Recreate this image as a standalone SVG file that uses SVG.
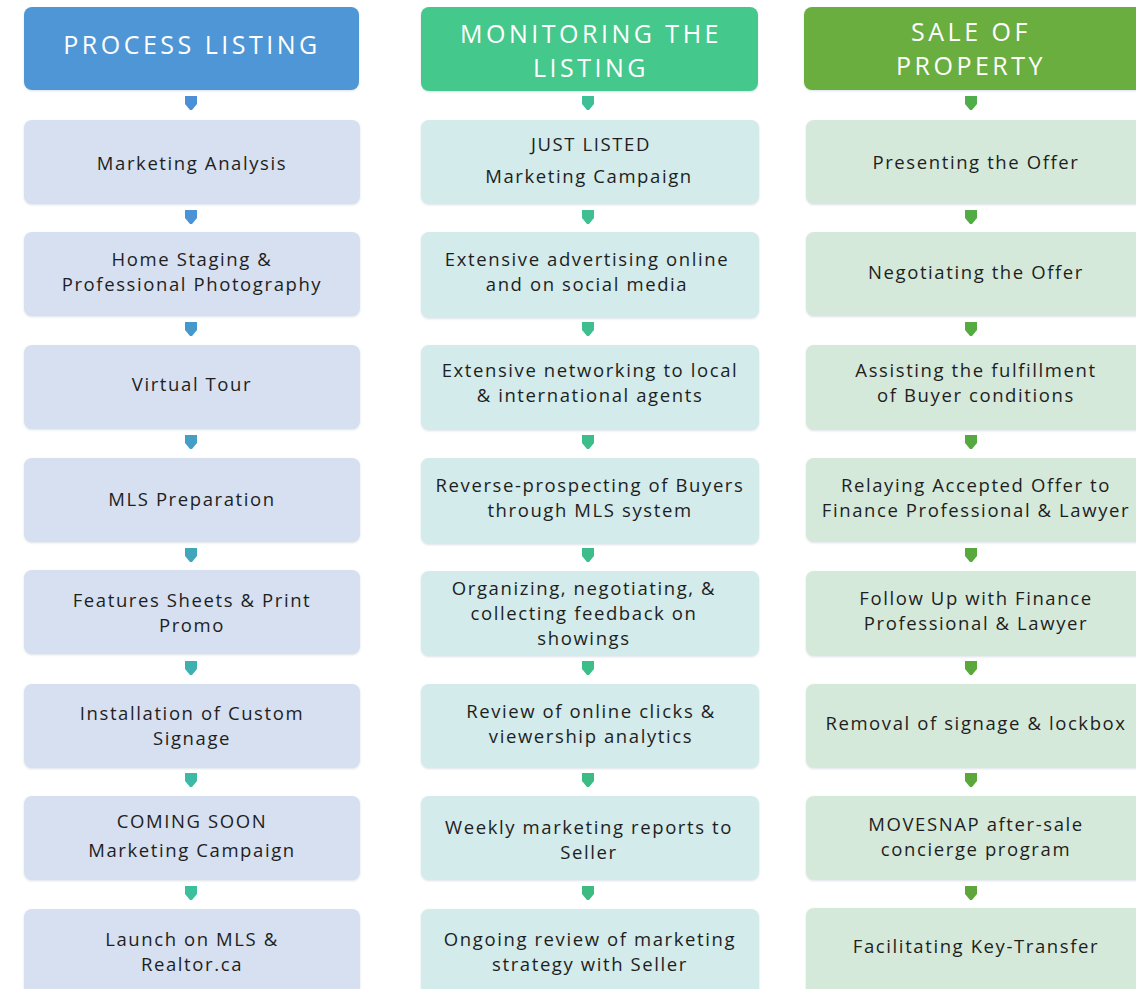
<svg xmlns="http://www.w3.org/2000/svg" width="1136" height="989" viewBox="0 0 1136 989">
  <style>
    .hdr { font-family: "Open Sans", "Liberation Sans", sans-serif; font-size: 25px; letter-spacing: 3.5px; fill: #ffffff; text-anchor: middle; }
    .txt { font-family: "Open Sans", "Liberation Sans", sans-serif; font-size: 18.5px; letter-spacing: 1.6px; fill: #1e1e1e; text-anchor: middle; }
    .box-a { fill: #d6e0f1; }
    .box-b { fill: #d3ebea; }
    .box-c { fill: #d5e9da; }
  </style>
  <defs>
    <filter id="soft" x="-5%" y="-10%" width="110%" height="125%">
      <feDropShadow dx="0" dy="1" stdDeviation="1.2" flood-color="#9aa8b8" flood-opacity="0.35"/>
    </filter>
    <path id="arr" d="M-6,-7 H6 V1 L1,7 H-1 L-6,1 Z"/>
  </defs>
  <rect width="1136" height="989" fill="#ffffff"/>

  <!-- column 1: process listing -->
  <g id="col1">
    <g id="h1"><rect x="24" y="7" width="335" height="83" rx="8" fill="#5096d6" filter="url(#soft)"/>
      <text class="hdr" x="192" y="54">PROCESS LISTING</text></g>
    <g id="a1"><rect class="box-a" x="24" y="120" width="336" height="84" rx="8" filter="url(#soft)"/>
      <text class="txt" x="192" y="170">Marketing Analysis</text></g>
    <g id="a2"><rect class="box-a" x="24" y="232" width="336" height="84" rx="8" filter="url(#soft)"/>
      <text class="txt" x="192" y="266">Home Staging &amp;</text>
      <text class="txt" x="192" y="291">Professional Photography</text></g>
    <g id="a3"><rect class="box-a" x="24" y="345" width="336" height="84" rx="8" filter="url(#soft)"/>
      <text class="txt" x="192" y="391">Virtual Tour</text></g>
    <g id="a4"><rect class="box-a" x="24" y="458" width="336" height="84" rx="8" filter="url(#soft)"/>
      <text class="txt" x="192" y="506">MLS Preparation</text></g>
    <g id="a5"><rect class="box-a" x="24" y="570" width="336" height="84" rx="8" filter="url(#soft)"/>
      <text class="txt" x="192" y="607">Features Sheets &amp; Print</text>
      <text class="txt" x="192" y="632">Promo</text></g>
    <g id="a6"><rect class="box-a" x="24" y="684" width="336" height="84" rx="8" filter="url(#soft)"/>
      <text class="txt" x="192" y="720">Installation of Custom</text>
      <text class="txt" x="192" y="745">Signage</text></g>
    <g id="a7"><rect class="box-a" x="24" y="796" width="336" height="84" rx="8" filter="url(#soft)"/>
      <text class="txt" x="192" y="828">COMING SOON</text>
      <text class="txt" x="192" y="857">Marketing Campaign</text></g>
    <g id="a8"><rect class="box-a" x="24" y="909" width="336" height="90" rx="8" filter="url(#soft)"/>
      <text class="txt" x="192" y="946">Launch on MLS &amp;</text>
      <text class="txt" x="192" y="971">Realtor.ca</text></g>
  </g>

  <!-- column 2: monitoring the listing -->
  <g id="col2">
    <g id="h2"><rect x="421" y="7" width="337" height="84" rx="8" fill="#45c88b" filter="url(#soft)"/>
      <text class="hdr" x="591" y="43">MONITORING THE</text>
      <text class="hdr" x="591" y="77">LISTING</text></g>
    <g id="b1"><rect class="box-b" x="421" y="120" width="338" height="84" rx="8" filter="url(#soft)"/>
      <text class="txt" x="591" y="151">JUST LISTED</text>
      <text class="txt" x="589" y="183">Marketing Campaign</text></g>
    <g id="b2"><rect class="box-b" x="421" y="232" width="338" height="86" rx="8" filter="url(#soft)"/>
      <text class="txt" x="587" y="266">Extensive advertising online</text>
      <text class="txt" x="587" y="291">and on social media</text></g>
    <g id="b3"><rect class="box-b" x="421" y="345" width="338" height="85" rx="8" filter="url(#soft)"/>
      <text class="txt" x="590" y="377">Extensive networking to local</text>
      <text class="txt" x="590" y="402">&amp; international agents</text></g>
    <g id="b4"><rect class="box-b" x="421" y="458" width="338" height="86" rx="8" filter="url(#soft)"/>
      <text class="txt" x="590" y="492">Reverse-prospecting of Buyers</text>
      <text class="txt" x="590" y="517">through MLS system</text></g>
    <g id="b5"><rect class="box-b" x="421" y="571" width="338" height="85" rx="8" filter="url(#soft)"/>
      <text class="txt" x="584" y="595">Organizing, negotiating, &amp;</text>
      <text class="txt" x="584" y="620">collecting feedback on</text>
      <text class="txt" x="584" y="645">showings</text></g>
    <g id="b6"><rect class="box-b" x="421" y="684" width="338" height="84" rx="8" filter="url(#soft)"/>
      <text class="txt" x="591" y="718">Review of online clicks &amp;</text>
      <text class="txt" x="591" y="743">viewership analytics</text></g>
    <g id="b7"><rect class="box-b" x="421" y="796" width="338" height="84" rx="8" filter="url(#soft)"/>
      <text class="txt" x="589" y="834">Weekly marketing reports to</text>
      <text class="txt" x="589" y="859">Seller</text></g>
    <g id="b8"><rect class="box-b" x="421" y="909" width="338" height="90" rx="8" filter="url(#soft)"/>
      <text class="txt" x="590" y="946">Ongoing review of marketing</text>
      <text class="txt" x="590" y="971">strategy with Seller</text></g>
  </g>

  <!-- column 3: sale of property -->
  <g id="col3">
    <g id="h3"><rect x="804" y="7" width="345" height="83" rx="8" fill="#6aae3f" filter="url(#soft)"/>
      <text class="hdr" x="971" y="41">SALE OF</text>
      <text class="hdr" x="971" y="75">PROPERTY</text></g>
    <g id="c1"><rect class="box-c" x="806" y="120" width="345" height="84" rx="8" filter="url(#soft)"/>
      <text class="txt" x="976" y="169">Presenting the Offer</text></g>
    <g id="c2"><rect class="box-c" x="806" y="232" width="345" height="84" rx="8" filter="url(#soft)"/>
      <text class="txt" x="976" y="279">Negotiating the Offer</text></g>
    <g id="c3"><rect class="box-c" x="806" y="345" width="345" height="85" rx="8" filter="url(#soft)"/>
      <text class="txt" x="976" y="377">Assisting the fulfillment</text>
      <text class="txt" x="976" y="402">of Buyer conditions</text></g>
    <g id="c4"><rect class="box-c" x="806" y="458" width="345" height="84" rx="8" filter="url(#soft)"/>
      <text class="txt" x="976" y="492">Relaying Accepted Offer to</text>
      <text class="txt" x="976" y="517">Finance Professional &amp; Lawyer</text></g>
    <g id="c5"><rect class="box-c" x="806" y="571" width="345" height="85" rx="8" filter="url(#soft)"/>
      <text class="txt" x="976" y="605">Follow Up with Finance</text>
      <text class="txt" x="976" y="630">Professional &amp; Lawyer</text></g>
    <g id="c6"><rect class="box-c" x="806" y="684" width="345" height="84" rx="8" filter="url(#soft)"/>
      <text class="txt" x="976" y="730">Removal of signage &amp; lockbox</text></g>
    <g id="c7"><rect class="box-c" x="806" y="796" width="345" height="84" rx="8" filter="url(#soft)"/>
      <text class="txt" x="976" y="831">MOVESNAP after-sale</text>
      <text class="txt" x="976" y="856">concierge program</text></g>
    <g id="c8"><rect class="box-c" x="806" y="908" width="345" height="91" rx="8" filter="url(#soft)"/>
      <text class="txt" x="976" y="953">Facilitating Key-Transfer</text></g>
  </g>

  <!-- connectors: small block arrows between steps -->
  <g id="connectors">
    <use href="#arr" x="191" y="103" fill="#4a8fd8"/>
    <use href="#arr" x="191" y="217" fill="#4a93d4"/>
    <use href="#arr" x="191" y="329" fill="#4698cc"/>
    <use href="#arr" x="191" y="442" fill="#449ec5"/>
    <use href="#arr" x="191" y="555" fill="#41a6ba"/>
    <use href="#arr" x="191" y="668" fill="#3fb0b0"/>
    <use href="#arr" x="191" y="780" fill="#3db9a6"/>
    <use href="#arr" x="191" y="893" fill="#3cbf9c"/>

    <use href="#arr" x="588" y="103" fill="#3fbf95"/>
    <use href="#arr" x="588" y="217" fill="#3fbf92"/>
    <use href="#arr" x="588" y="329" fill="#3fbf90"/>
    <use href="#arr" x="588" y="442" fill="#3dbd8c"/>
    <use href="#arr" x="588" y="555" fill="#3dbd8a"/>
    <use href="#arr" x="588" y="668" fill="#3dbd88"/>
    <use href="#arr" x="588" y="780" fill="#3dbb84"/>
    <use href="#arr" x="588" y="893" fill="#3dbb80"/>

    <use href="#arr" x="971" y="103" fill="#4fad4a"/>
    <use href="#arr" x="971" y="217" fill="#52ab44"/>
    <use href="#arr" x="971" y="329" fill="#55aa42"/>
    <use href="#arr" x="971" y="442" fill="#56a940"/>
    <use href="#arr" x="971" y="555" fill="#58a83e"/>
    <use href="#arr" x="971" y="668" fill="#5aa83c"/>
    <use href="#arr" x="971" y="780" fill="#5ca73c"/>
    <use href="#arr" x="971" y="893" fill="#5ea63b"/>
  </g>
</svg>
